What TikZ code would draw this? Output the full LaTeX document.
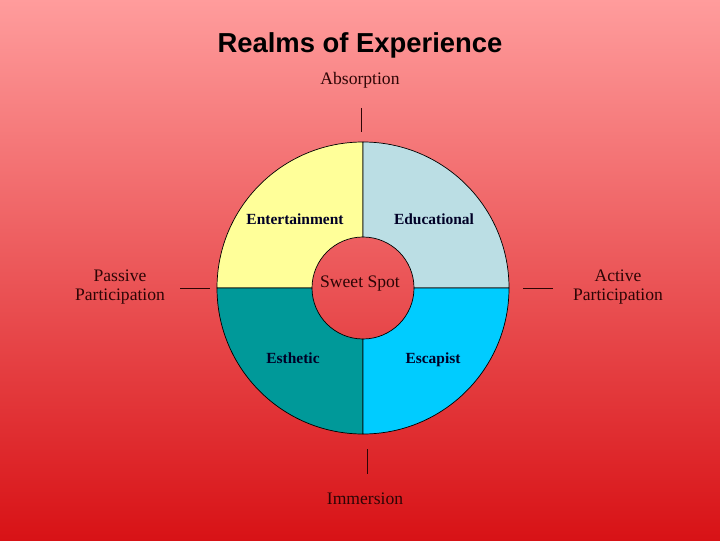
\documentclass[tikz,border=0pt]{standalone}
\usepackage{fontspec}
\setmainfont{Liberation Serif}
\newfontfamily\titlefont{Liberation Sans}
\usepackage{tikz}
\usetikzlibrary{calc,positioning}
\definecolor{bgtop}{RGB}{255,156,156}
\definecolor{bgbot}{RGB}{216,18,22}
\definecolor{entyellow}{RGB}{255,255,153}
\definecolor{edublue}{RGB}{187,222,228}
\definecolor{estteal}{RGB}{0,153,153}
\definecolor{escyan}{RGB}{0,204,255}
\definecolor{labelink}{RGB}{45,5,5}
\tikzset{
  quad/.style={draw=black,line width=0.5pt},
  realm/.style={anchor=base,font=\fontsize{11}{12}\selectfont\bfseries,text=black!85!blue},
  axislabel/.style={font=\fontsize{12.5}{14}\selectfont,text=labelink,align=center},
  axistick/.style={draw=labelink,line width=0.6pt}
}

\begin{document}
\begin{tikzpicture}[x=0.025cm,y=0.025cm]
\def\ro{146}
\def\ri{51}
\shade[top color=bgtop,bottom color=bgbot] (0,0) rectangle (720,540);
\coordinate (c) at (363,252);
\filldraw[quad,fill=entyellow] ($(c)+(-\ro,0)$) arc[start angle=180,end angle=90,radius=\ro] -- ($(c)+(0,\ri)$) arc[start angle=90,end angle=180,radius=\ri] -- cycle;
\filldraw[quad,fill=edublue] ($(c)+(\ro,0)$) arc[start angle=0,end angle=90,radius=\ro] -- ($(c)+(0,\ri)$) arc[start angle=90,end angle=0,radius=\ri] -- cycle;
\filldraw[quad,fill=estteal] ($(c)+(-\ro,0)$) arc[start angle=180,end angle=270,radius=\ro] -- ($(c)+(0,-\ri)$) arc[start angle=270,end angle=180,radius=\ri] -- cycle;
\filldraw[quad,fill=escyan] ($(c)+(\ro,0)$) arc[start angle=0,end angle=-90,radius=\ro] -- ($(c)+(0,-\ri)$) arc[start angle=-90,end angle=0,radius=\ri] -- cycle;
\node[font=\titlefont\fontsize{19.5}{22}\selectfont\bfseries] (title) at (360,495) {Realms of Experience};
\node[axislabel] (absorption) at (360,460) {Absorption};
\node[axislabel] (immersion) at (365,41) {Immersion};
\node[axislabel] (passive) at (120,253) {Passive\\Participation};
\node[axislabel] (active) at (618,253) {Active\\Participation};
\node[axislabel] (sweet) at (360,256) {Sweet Spot};
\node[realm] (entertainment) at (295,315) {Entertainment};
\node[realm] (educational) at (434,315) {Educational};
\node[realm] (esthetic) at (293,177) {Esthetic};
\node[realm] (escapist) at (433,177) {Escapist};
\coordinate (abs-a) at (361,432);
\coordinate (abs-b) at (361,408);
\coordinate (imm-a) at (367,91);
\coordinate (imm-b) at (367,66);
\coordinate (pas-a) at (180,252);
\coordinate (pas-b) at (210,252);
\coordinate (act-a) at (523,252);
\coordinate (act-b) at (553,252);
\draw[axistick] (abs-a) -- (abs-b);
\draw[axistick] (imm-a) -- (imm-b);
\draw[axistick] (pas-a) -- (pas-b);
\draw[axistick] (act-a) -- (act-b);
\end{tikzpicture}
\end{document}
